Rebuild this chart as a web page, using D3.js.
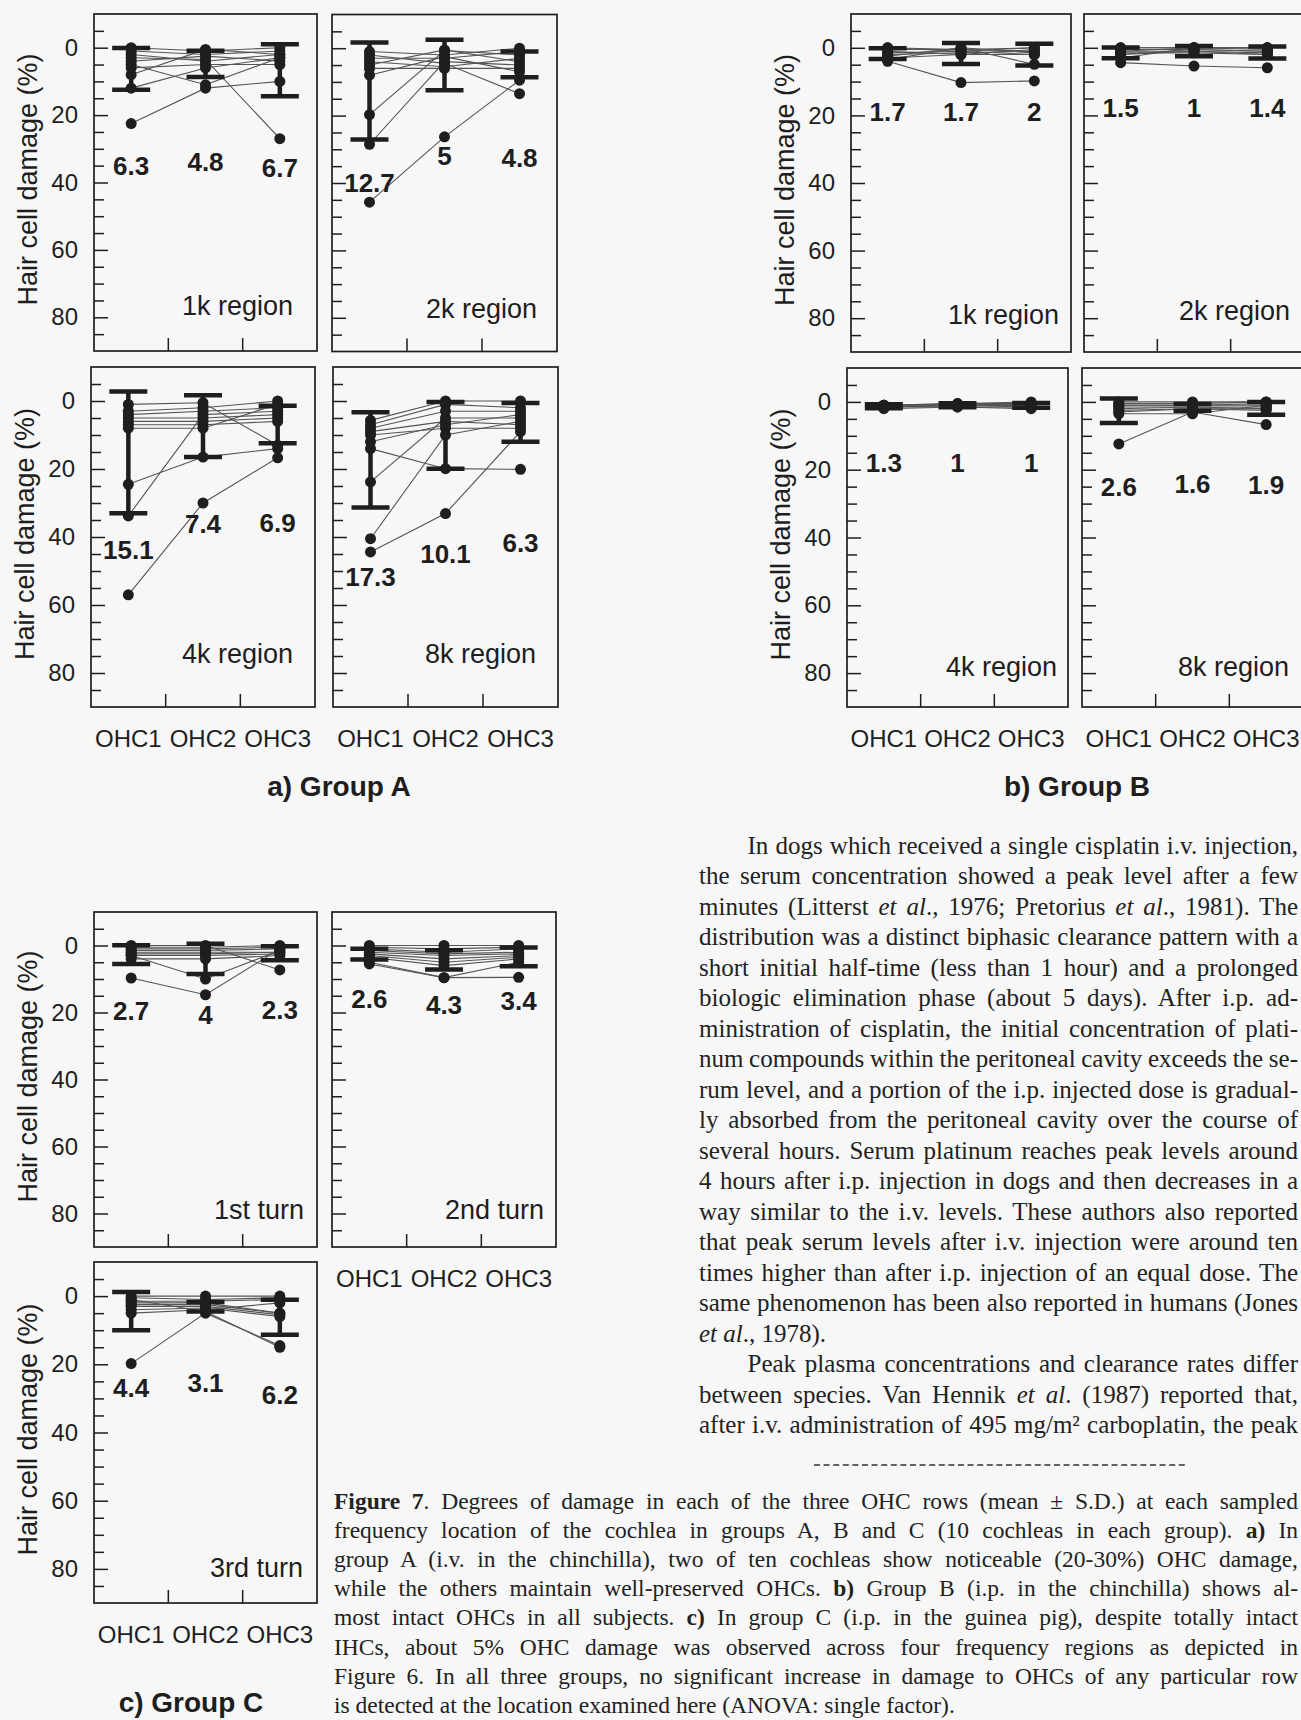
<!DOCTYPE html>
<html><head><meta charset="utf-8">
<script src="https://cdn.jsdelivr.net/npm/d3@7"></script>
<style>
html,body{margin:0;padding:0;background:#f7f7f7;overflow:hidden}
svg{display:block}
</style></head><body>
<svg id="chart" width="1301" height="1720"></svg>
<script>
// ---------- DATA ----------
const rows = ["OHC1", "OHC2", "OHC3"];
const yTickLabels = [0, 20, 40, 60, 80];
const yTickMarks = [-5, 0, 5, 10, 15, 20, 25, 30, 35, 40, 45, 50, 55, 60, 65, 70, 75, 80, 85];
const yDomain = [-10, 90];

// Group A (i.v., chinchilla): mean, S.D., 10 cochleas per OHC row
const meanA1k = [6.3, 4.8, 6.7],   sdA1k = [6.2, 3.9, 7.7];
const cochA1k = [[22.5, 3, 12, 5, 0, 1, 2, 4, 6, 8], [12, 3.5, 6, 11, 1, 2, 4, 2.5, 5, 0.5], [10, 27, 3, 3, 0, 1, 2, 4, 5, 2]];
const meanA2k = [12.7, 5, 4.8],    sdA2k = [14.4, 7.5, 3.8];
const cochA2k = [[45.7, 19.7, 28.5, 2, 1, 3, 4, 5, 6, 8], [26.3, 0.7, 4, 4.5, 2, 3, 5.5, 0.5, 6, 2.5], [9.5, 2, 5, 13.5, 0, 1, 3, 4, 6, 7]];
const meanA4k = [15.1, 7.4, 6.9],  sdA4k = [17.9, 9.1, 5.5];
const cochA4k = [[57, 33.8, 24.5, 1, 3, 4, 5, 6, 7, 8], [30, 4, 16.5, 0.5, 2, 3, 5, 6, 7, 8], [16.7, 3, 14, 13, 0, 2, 4, 5, 6, 1]];
const meanA8k = [17.3, 10.1, 6.3], sdA8k = [14, 9.8, 5.7];
const cochA8k = [[44.4, 40.5, 23.8, 14, 5.7, 7, 8, 9, 10, 12], [33.1, 10, 5, 19.9, 0, 1, 3, 6, 8, 7], [9, 6, 5, 20.1, 0, 2, 3, 7, 8, 4]];

// Group B (i.p., chinchilla)
const meanB1k = [1.7, 1.7, 2],   sdB1k = [1.6, 3.1, 3.2];
const cochB1k = [[4, 3.5, 0, 0.5, 1, 1.5, 2, 2.5, 3, 0], [10.3, 0, 1, 0.5, 2, 1, 1.5, 0, 2, 0.5], [9.8, 4.9, 0, 1, 0.5, 2, 1, 1.5, 2, 0]];
const meanB2k = [1.5, 1, 1.4],   sdB2k = [1.6, 1.5, 1.8];
const cochB2k = [[4.4, 0, 0.5, 1, 1, 1.5, 2, 2, 3, 0], [5.4, 0, 0.5, 1, 0, 1.5, 1, 0.5, 0, 0], [5.9, 0, 1, 1.5, 0.5, 2, 2, 1, 0, 0]];
const meanB4k = [1.3, 1, 1],     sdB4k = [0.6, 0.6, 0.7];
const cochB4k = [[1, 1, 1, 1, 1.5, 1.5, 1.5, 1.5, 1.5, 2], [0.5, 0.5, 1, 1, 1, 1, 1, 1, 1.5, 1.5], [0, 0.5, 0.5, 1, 1, 1, 1, 1.5, 1.5, 2]];
const meanB8k = [2.6, 1.6, 1.9], sdB8k = [3.6, 1.0, 1.9];
const cochB8k = [[12.4, 0, 0.5, 1, 1, 1.5, 2, 2.5, 3, 3.5], [3, 0, 0.5, 1, 1, 1.5, 1.5, 2, 2, 3.5], [6.7, 0, 0, 0.5, 1, 1.5, 2, 2, 2.5, 1]];

// Group C (i.p., guinea pig)
const meanC1 = [2.7, 4, 2.3],   sdC1 = [2.8, 4.5, 2.1];
const cochC1 = [[9.7, 3, 0, 0.5, 1, 1.5, 2, 2.5, 3, 4], [14.7, 10, 0, 0.5, 1, 1.5, 2, 2.5, 3, 4], [1, 1.5, 7.3, 0, 0.5, 1, 2, 2, 2.5, 3]];
const meanC2 = [2.6, 4.3, 3.4], sdC2 = [1.6, 2.9, 2.8];
const cochC2 = [[5, 5.5, 0, 0.5, 1, 1.5, 2, 2.5, 3, 3.5], [9.6, 9.6, 0, 1, 2, 2.5, 3, 4, 5, 6], [9.5, 5, 0, 0.5, 1, 2, 2.5, 3, 3.5, 4]];
const meanC3 = [4.4, 3.1, 6.2], sdC3 = [5.6, 1.4, 5.1];
const cochC3 = [[19.8, 1, 0, 0.5, 1.5, 2, 2.5, 3, 4, 5], [5, 4.5, 0, 1, 1.5, 2, 2.5, 3, 3.5, 4], [14.5, 15, 0, 0.5, 1, 5, 5, 5.5, 6, 2]];

// where the mean labels sit (in % damage units)
const labelAtA1k = [37.9, 36.6, 38.4], labelAtA2k = [42.6, 34.7, 35.2];
const labelAtA4k = [46.4, 38.9, 38.6], labelAtA8k = [54.5, 47.7, 44.3];
const labelAtB1k = [21.6, 21.6, 21.6], labelAtB2k = [20.6, 20.6, 20.6];
const labelAtB4k = [20.6, 20.6, 20.6], labelAtB8k = [27.8, 26.8, 27.3];
const labelAtC1 = [22.2, 23.5, 21.8],  labelAtC2 = [18.8, 20.3, 19.3], labelAtC3 = [29.6, 28.1, 31.6];

const regionNames = ["1k region", "2k region", "4k region", "8k region", "1st turn", "2nd turn", "3rd turn"];
const groupTitles = ["a) Group A", "b) Group B", "c) Group C"];
const yTitle = "Hair cell damage (%)";

const paraLines = [
  "In dogs which received a single cisplatin i.v. injection,",
  "the serum concentration showed a peak level after a few",
  "minutes (Litterst *et al*., 1976; Pretorius *et al*., 1981).  The",
  "distribution was a distinct biphasic clearance pattern with a",
  "short initial half-time (less than 1 hour) and a prolonged",
  "biologic elimination phase (about 5 days).  After i.p. ad-",
  "ministration of cisplatin, the initial concentration of plati-",
  "num compounds within the peritoneal cavity exceeds the se-",
  "rum level, and a portion of the i.p. injected dose is gradual-",
  "ly absorbed from the peritoneal cavity over the course of",
  "several hours.  Serum platinum reaches peak levels around",
  "4 hours after i.p. injection in dogs and then decreases in a",
  "way similar to the i.v. levels.  These authors also reported",
  "that peak serum levels after i.v. injection were around ten",
  "times higher than after i.p. injection of an equal dose.  The",
  "same phenomenon has been also reported in humans (Jones",
  "*et al*., 1978).",
  "Peak plasma concentrations and clearance rates differ",
  "between species.  Van Hennik *et al*. (1987) reported that,",
  "after i.v. administration of 495 mg/m² carboplatin, the peak"
];
const paraIndent = [0, 17];
const paraRagged = [16];

const captionLines = [
  "**Figure 7**.  Degrees of damage in each of the three OHC rows (mean ± S.D.) at each sampled",
  "frequency location of the cochlea in groups A, B and C (10 cochleas in each group).  **a)** In",
  "group A (i.v. in the chinchilla), two of ten cochleas show noticeable (20-30%) OHC damage,",
  "while the others maintain well-preserved OHCs.  **b)** Group B (i.p. in the chinchilla) shows al-",
  "most intact OHCs in all subjects.  **c)** In group C (i.p. in the guinea pig), despite totally intact",
  "IHCs, about 5% OHC damage was observed across four frequency regions as depicted in",
  "Figure 6.  In all three groups, no significant increase in damage to OHCs of any particular row",
  "is detected at the location examined here (ANOVA: single factor)."
];
const captionRagged = [7];

// ---------- LAYOUT ----------
const ink = "#1e1e1e";
const sans = "'Liberation Sans', Arial, sans-serif";
const serif = "'Liberation Serif', 'Times New Roman', serif";

const panels = [
  {mean: meanA1k, sd: sdA1k, coch: cochA1k, lab: labelAtA1k, name: regionNames[0], x: 94,  y: 14,   w: 223, h: 337, yAxis: true,  xAxis: false, pad: 24, regY: 79.3},
  {mean: meanA2k, sd: sdA2k, coch: cochA2k, lab: labelAtA2k, name: regionNames[1], x: 332, y: 14.5, w: 225, h: 337, yAxis: false, xAxis: false, pad: 20, regY: 80},
  {mean: meanA4k, sd: sdA4k, coch: cochA4k, lab: labelAtA4k, name: regionNames[2], x: 91,  y: 367,  w: 224, h: 340, yAxis: true,  xAxis: true,  pad: 22, regY: 77.2},
  {mean: meanA8k, sd: sdA8k, coch: cochA8k, lab: labelAtA8k, name: regionNames[3], x: 333, y: 367,  w: 225, h: 340, yAxis: false, xAxis: true,  pad: 22, regY: 77},
  {mean: meanB1k, sd: sdB1k, coch: cochB1k, lab: labelAtB1k, name: regionNames[0], x: 851, y: 14,   w: 220, h: 338, yAxis: true,  xAxis: false, pad: 12, regY: 81.6},
  {mean: meanB2k, sd: sdB2k, coch: cochB2k, lab: labelAtB2k, name: regionNames[1], x: 1084, y: 14,  w: 220, h: 338, yAxis: false, xAxis: false, pad: 14, regY: 80.6},
  {mean: meanB4k, sd: sdB4k, coch: cochB4k, lab: labelAtB4k, name: regionNames[2], x: 847, y: 368,  w: 221, h: 339, yAxis: true,  xAxis: true,  pad: 11, regY: 81},
  {mean: meanB8k, sd: sdB8k, coch: cochB8k, lab: labelAtB8k, name: regionNames[3], x: 1082, y: 368, w: 221, h: 339, yAxis: false, xAxis: true,  pad: 14, regY: 80.8},
  {mean: meanC1, sd: sdC1, coch: cochC1, lab: labelAtC1, name: regionNames[4], x: 94,  y: 912,  w: 223, h: 335, yAxis: true,  xAxis: false, pad: 13, regY: 81.5},
  {mean: meanC2, sd: sdC2, coch: cochC2, lab: labelAtC2, name: regionNames[5], x: 332, y: 912,  w: 224, h: 335, yAxis: false, xAxis: true,  pad: 12, regY: 81.5},
  {mean: meanC3, sd: sdC3, coch: cochC3, lab: labelAtC3, name: regionNames[6], x: 94,  y: 1262, w: 223, h: 341, yAxis: true,  xAxis: true,  pad: 14, regY: 82.5}
];

const svg = d3.select("#chart");
svg.append("rect").attr("width", 1301).attr("height", 1720).attr("fill", "#f7f7f7");

function drawPanel(p) {
  const g = svg.append("g");
  const x = d3.scaleBand().domain(rows).range([p.x, p.x + p.w]);
  const y = d3.scaleLinear().domain(yDomain).range([p.y, p.y + p.h]);
  const cx = r => x(r) + x.bandwidth() / 2;

  // inner tick marks on left
  const tickAxis = d3.axisLeft(y).tickValues(yTickMarks).tickSize(0).tickFormat("");
  const tg = g.append("g").attr("transform", `translate(${p.x},0)`).call(tickAxis);
  tg.select(".domain").remove();
  tg.selectAll(".tick line")
    .attr("x2", d => yTickLabels.includes(d) ? 14 : 10)
    .attr("stroke", ink).attr("stroke-width", 1.5);

  if (p.yAxis) {
    const la = d3.axisLeft(y).tickValues(yTickLabels).tickSize(0).tickPadding(16);
    const lg = g.append("g").attr("transform", `translate(${p.x},0)`).call(la);
    lg.select(".domain").remove();
    lg.selectAll("text").attr("font-family", sans).attr("font-size", 24).attr("fill", ink);
    g.append("text")
      .attr("transform", `translate(${p.x - 66},${p.y + p.h / 2 - 3}) rotate(-90)`)
      .attr("text-anchor", "middle").attr("dominant-baseline", "central")
      .attr("font-family", sans).attr("font-size", 27).attr("fill", ink)
      .text(yTitle);
  }

  // bottom ticks at band boundaries
  g.selectAll(".xt").data(rows.slice(1)).join("line")
    .attr("x1", d => x(d)).attr("x2", d => x(d))
    .attr("y1", p.y + p.h).attr("y2", p.y + p.h - 13)
    .attr("stroke", ink).attr("stroke-width", 1.5);

  if (p.xAxis) {
    g.selectAll(".xl").data(rows).join("text")
      .attr("x", d => cx(d)).attr("y", p.y + p.h + 40)
      .attr("text-anchor", "middle")
      .attr("font-family", sans).attr("font-size", 24).attr("fill", ink)
      .text(d => d);
  }

  // frame
  g.append("rect").attr("x", p.x).attr("y", p.y).attr("width", p.w).attr("height", p.h)
    .attr("fill", "none").attr("stroke", ink).attr("stroke-width", 1.7);

  // individual cochleas
  const n = p.coch[0].length;
  const line = d3.line();
  const subj = d3.range(n).map(i => rows.map((r, j) => [cx(r), y(p.coch[j][i])]));
  g.selectAll(".subj").data(subj).join("path")
    .attr("d", line).attr("fill", "none").attr("stroke", "#555").attr("stroke-width", 1.1);

  // mean ± SD bars
  rows.forEach((r, j) => {
    const lo = y(p.mean[j] - p.sd[j]), hi = y(p.mean[j] + p.sd[j]);
    g.append("line").attr("x1", cx(r)).attr("x2", cx(r)).attr("y1", lo).attr("y2", hi)
      .attr("stroke", ink).attr("stroke-width", 4.5);
    [lo, hi].forEach(v => g.append("line")
      .attr("x1", cx(r) - 19).attr("x2", cx(r) + 19).attr("y1", v).attr("y2", v)
      .attr("stroke", ink).attr("stroke-width", 4.5));
  });

  // dots
  const pts = [];
  rows.forEach((r, j) => p.coch[j].forEach(v => pts.push([cx(r), y(v)])));
  g.selectAll(".dot").data(pts).join("circle")
    .attr("cx", d => d[0]).attr("cy", d => d[1]).attr("r", 5.5).attr("fill", ink);

  // mean labels
  g.selectAll(".ml").data(rows).join("text")
    .attr("x", d => cx(d)).attr("y", (d, j) => y(p.lab[j]))
    .attr("text-anchor", "middle")
    .attr("font-family", sans).attr("font-weight", "bold").attr("font-size", 26).attr("fill", ink)
    .text((d, j) => p.mean[j]);

  // region label
  g.append("text").attr("x", p.x + p.w - p.pad).attr("y", y(p.regY))
    .attr("text-anchor", "end").attr("font-family", sans).attr("font-size", 27).attr("fill", ink)
    .text(p.name);
}
panels.forEach(drawPanel);

// group titles
const groupPos = [[339, 796], [1077, 796], [191, 1712]];
groupTitles.forEach((t, i) => svg.append("text")
  .attr("x", groupPos[i][0]).attr("y", groupPos[i][1]).attr("text-anchor", "middle")
  .attr("font-family", sans).attr("font-weight", "bold").attr("font-size", 28).attr("fill", ink)
  .text(t));

// ---------- TEXT BLOCKS ----------
function addRich(textSel, str) {
  const parts = str.split(/(\*\*[^*]+\*\*|\*[^*]+\*)/).filter(s => s.length);
  parts.forEach(s => {
    const ts = textSel.append("tspan");
    if (s.startsWith("**")) ts.attr("font-weight", "bold").text(s.slice(2, -2));
    else if (s.startsWith("*")) ts.attr("font-style", "italic").text(s.slice(1, -1));
    else ts.text(s);
  });
}
function justify(t, x0, right) {
  const node = t.node();
  const nat = node.getComputedTextLength();
  const spaces = (node.textContent.replace(/\s+/g, " ").trim().match(/ /g) || []).length;
  if (spaces > 0) t.attr("word-spacing", ((right - x0) - nat) / spaces);
}

const pLeft = 699, pIndent = 747.5, pRight = 1298, pTop = 853.5, pStep = 30.5;
paraLines.forEach((s, i) => {
  const x0 = paraIndent.includes(i) ? pIndent : pLeft;
  const t = svg.append("text").attr("x", x0).attr("y", pTop + i * pStep)
    .attr("font-family", serif).attr("font-size", 25).attr("fill", "#222");
  addRich(t, s.replace(/  +/g, " "));
  if (!paraRagged.includes(i)) justify(t, x0, pRight);
});

// separator
svg.append("line").attr("x1", 814).attr("x2", 1187).attr("y1", 1465).attr("y2", 1465)
  .attr("stroke", "#333").attr("stroke-width", 1.6).attr("stroke-dasharray", "6,3.6");

const cLeft = 334, cRight = 1298, cTop = 1509, cStep = 29.1;
captionLines.forEach((s, i) => {
  const t = svg.append("text").attr("x", cLeft).attr("y", cTop + i * cStep)
    .attr("font-family", serif).attr("font-size", 23.5).attr("fill", "#222");
  addRich(t, s.replace(/  +/g, " "));
  if (!captionRagged.includes(i)) justify(t, cLeft, cRight);
});
</script>
</body></html>
